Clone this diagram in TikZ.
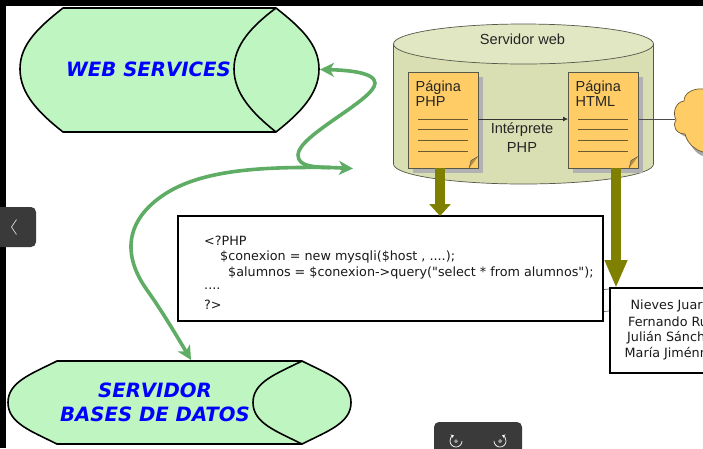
\documentclass[tikz,border=0pt]{standalone}
\usepackage{fontspec}
\setmainfont{DejaVu Sans}
\newfontfamily\lib{Liberation Sans}
\newfontfamily\plainsans{DejaVu Sans}
\usetikzlibrary{arrows.meta,calc}
\definecolor{shapegreen}{HTML}{BFF5C0}
\definecolor{curvegreen}{HTML}{5FAD65}
\definecolor{olivearrow}{HTML}{808000}
\definecolor{cylbody}{HTML}{D9DFB2}
\definecolor{cyltop}{HTML}{E1E6C3}
\definecolor{cylline}{HTML}{55584A}
\definecolor{pageorange}{HTML}{FFCC66}
\definecolor{pageline}{HTML}{6B5A30}
\definecolor{uidark}{HTML}{3A3A3A}
\tikzset{
  x=1pt,y=-1pt,
  bluetitle/.style={font=\fontsize{19.7}{24}\selectfont\bfseries\itshape,text=blue,align=center,inner sep=0pt},
  blob/.style={draw=black,line width=1.6pt,fill=shapegreen,line join=round},
  inner arc/.style={draw=black,line width=1.6pt},
  curvearrow/.style={draw=curvegreen,line width=3.6pt,-{Stealth[length=14pt,width=14pt,inset=4pt]}},
  olivedown/.style={draw=olivearrow,line width=10pt},
  whitebox/.style={draw=black,line width=2pt,fill=white,anchor=north west,inner sep=0pt,outer sep=0pt},
  codeline/.style={font=\plainsans\fontsize{12.75}{14}\selectfont,anchor=west,inner sep=0pt,text=black!90},
  nameline/.style={font=\plainsans\fontsize{12.75}{14}\selectfont,anchor=west,inner sep=0pt,text=black!90},
  webtext/.style={font=\lib\fontsize{14.6}{16}\selectfont,inner sep=0pt,text=black!85},
  pagetext/.style={font=\lib\fontsize{14.5}{14}\selectfont,inner sep=0pt,anchor=west,text=black!85},
  pagebox/.style={draw=cylline,line width=0.7pt,fill=pageorange,anchor=north west,minimum width=70pt,minimum height=96pt,inner sep=0pt,outer sep=0pt},
  pagerule/.style={draw=pageline,line width=0.8pt},
  flowline/.style={draw=black!80,line width=0.8pt},
}
\begin{document}
\begin{tikzpicture}
\useasboundingbox (0,0) rectangle (703,448);
\clip (0,0) rectangle (703,448);
\fill[white] (0,0) rectangle (703,448);
\fill[black] (0,0) rectangle (703,5.5);
\fill[black] (0,0) rectangle (6,448);

% Web services shape
\path[blob] (63,8) -- (276,8) .. controls (300,27) and (319,44) .. (319,69)
  .. controls (319,94) and (300,113) .. (276,132) -- (63,132)
  .. controls (39,113) and (20,94) .. (20,69) .. controls (20,44) and (39,27) .. (63,8) -- cycle;
\draw[inner arc] (276,8) .. controls (252,26) and (234,45) .. (234,69) .. controls (234,93) and (252,113) .. (276,132);
\node[bluetitle] (webservices) at (148.5,69) {WEB SERVICES};
\coordinate (webport) at (320,69.5);

% Server shape
\path[blob] (57,361) -- (302,361) .. controls (328,374) and (351,382) .. (351,402.5)
  .. controls (351,423) and (328,431) .. (302,444) -- (57,444)
  .. controls (31,431) and (8,423) .. (8,402.5) .. controls (8,382) and (31,374) .. (57,361) -- cycle;
\draw[inner arc] (302,361) .. controls (276,374) and (253,382) .. (253,402.5) .. controls (253,423) and (276,431) .. (302,444);
\node[bluetitle] (dbserver) at (155,402.5) {SERVIDOR\\BASES DE DATOS};
\coordinate (dbport) at (191,360);

% Cylinder
\path[draw=cylline,line width=0.7pt,fill=cylbody] (393.5,44) -- (393.5,164) arc[start angle=180,end angle=360,x radius=130,y radius=-20] -- (653.5,44) -- cycle;
\path[draw=cylline,line width=0.7pt,fill=cyltop] (523.5,44) ellipse[x radius=130,y radius=20];
\node[webtext] (servertitle) at (522.5,39.5) {Servidor web};

% Cloud
\fill[black!35] (703,93) .. controls (695,90) and (686,94) .. (686,103) .. controls (678,104) and (675,112) .. (678,120)
  .. controls (674,126) and (678,136) .. (688,137) .. controls (690,146) and (696,154) .. (703,156) -- cycle;
\path[draw=pageline,line width=0.7pt,fill=pageorange] (703,89) .. controls (695,88) and (684,92) .. (684,101)
  .. controls (676,102) and (672,112) .. (676,120) .. controls (672,126) and (676,134) .. (685,134)
  .. controls (687,143) and (695,150) .. (703,152);

% Pages
\fill[black!30] (413,77) rectangle (483,173);
\fill[black!30] (573,77) rectangle (643,173);
\node[pagebox] (phppage) at (408,72.5) {};
\node[pagebox] (htmlpage) at (568,72.5) {};
\foreach \p/\q in {phppage/a,htmlpage/b}{
  \fill[pageorange!70!black] ($(\p.south east)+(0,-12)$) -- ($(\p.south east)+(-9,0)$) -- ($(\p.south east)+(-7,-8)$) -- cycle;
  \draw[draw=cylline,line width=0.5pt] ($(\p.south east)+(0,-12)$) -- ($(\p.south east)+(-7,-8)$) -- ($(\p.south east)+(-9,0)$);
  \foreach \yy in {46.5,57,67.5,78.5}{
    \draw[pagerule] ($(\p.north west)+(10,\yy)$) -- ($(\p.north west)+(59.5,\yy)$);
  }
}
\node[pagetext] (phpA) at (415.5,88) {Página};
\node[pagetext] (phpB) at (415.5,102) {PHP};
\node[pagetext] (htmlA) at (575.5,88) {Página};
\node[pagetext] (htmlB) at (575.5,102) {HTML};
\node[webtext] (interp1) at (522,129.5) {Intérprete};
\node[webtext] (interp2) at (522,147.5) {PHP};

\coordinate (phpflow) at (478,119);
\coordinate (htmlflow) at (568,119);
\coordinate (htmlflowout) at (638,119.5);
\coordinate (cloudport) at (675,119.5);
\draw[flowline,-{Latex[length=5pt,width=5pt]}] (phpflow) -- (htmlflow);
\draw[draw=black!70,line width=0.7pt] (htmlflowout) -- (cloudport);

% Boxes
\node[whitebox,minimum width=425pt,minimum height=105pt] (codebox) at (178,215.5) {};
\node[whitebox,minimum width=120pt,minimum height=85.5pt] (listbox) at (610,287.5) {};
\draw[draw=black!60,line width=0.7pt] ($(codebox.north east)+(1,74)$) -- ($(listbox.north west)+(-1,1.5)$);
\draw[draw=black!60,line width=0.7pt] ($(codebox.north east)+(1,96)$) -- ($(listbox.north west)+(-1,23.5)$);

\node[codeline] (c1) at (204,241) {<?PHP};
\node[codeline] (c2) at (220,257) {\$conexion = new mysqli(\$host , ....);};
\node[codeline] (c3) at (228,273) {\$alumnos = \$conexion->query("select * from alumnos");};
\node[codeline] (c4) at (204,289) {....};
\node[codeline] (c5) at (204,305) {?>};

\node[nameline] (n1) at (630.5,306) {Nieves Juare};
\node[nameline] (n2) at (628,322) {Fernando Ru};
\node[nameline] (n3) at (627,338) {Julián Sánch};
\node[nameline] (n4) at (624.5,354) {María Jiménn};

% Olive arrows
\coordinate (phpdrop) at (440,168);
\coordinate (codetop) at (440,216);
\coordinate (htmldrop) at (616,168);
\coordinate (listtop) at (616,288);
\draw[olivedown,-{Triangle[length=12pt,width=21pt]}] (phpdrop) -- (codetop);
\draw[olivedown,-{Triangle[length=28pt,width=21pt]}] (htmldrop) -- (listtop);

% Green curves
\coordinate (hub) at (353,168.5);
\coordinate (hubtail) at (330,167.5);
\draw[curvearrow] (hubtail) .. controls (315,167) and (298,167) .. (298,155) .. controls (298,135) and (375,100) .. (375,83) .. controls (375,72) and (345,70) .. (webport);
\draw[curvearrow] (hubtail) .. controls (270,167) and (205,168) .. (165,194) .. controls (125,220) and (122,255) .. (147,290) .. controls (162,311) and (178,338) .. (dbport);
\draw[curvearrow] (hubtail) -- (hub);

% Viewer controls
\path[fill=uidark,rounded corners=5pt] (-10,207) -- (36,207) -- (36,247) -- (-10,247) -- cycle;
\draw[draw=white!85!black,line width=0.7pt] (16.5,219.5) -- (11.5,227) -- (16.5,234.5);
\path[fill=uidark,rounded corners=5pt] (434,460) -- (434,422) -- (522,422) -- (522,460) -- cycle;
\draw[draw=white,line width=0.7pt,-{Stealth[length=3pt,width=4pt]}] (462,441) arc[start angle=0,end angle=250,radius=6];
\draw[draw=white,line width=0.7pt,-{Stealth[length=3pt,width=4pt]}] (494,441) arc[start angle=180,end angle=-70,radius=6];
\draw[white,line width=0.5pt] (456,441) circle[radius=1.4];
\draw[white,line width=0.5pt] (500,441) circle[radius=1.4];
\end{tikzpicture}
\end{document}
